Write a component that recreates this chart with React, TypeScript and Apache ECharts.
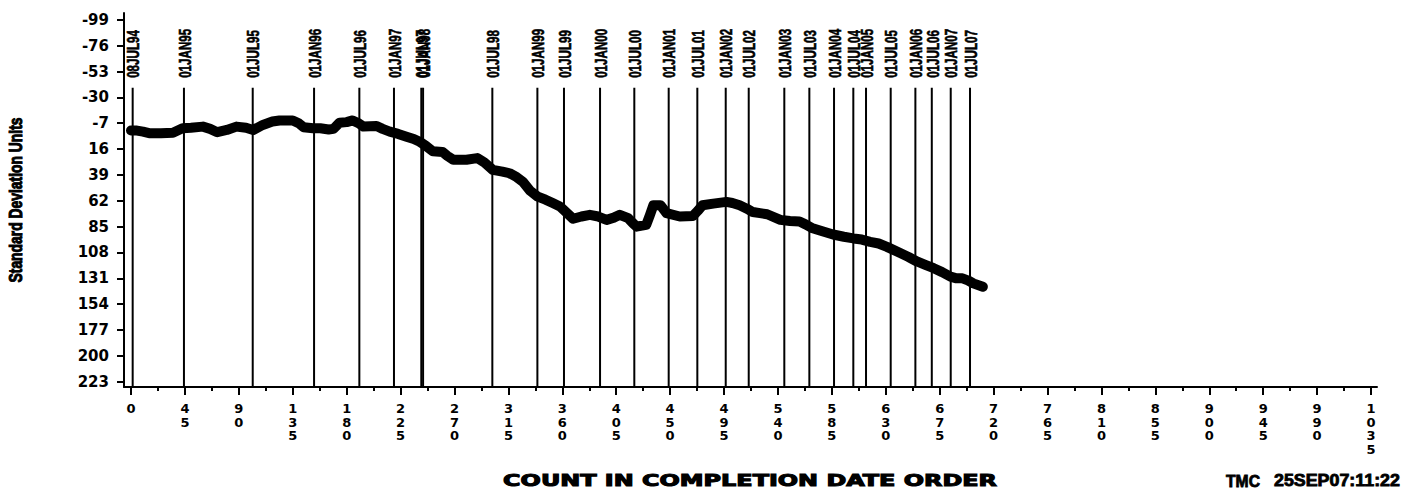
import React, { useEffect, useRef } from "react";
import * as echarts from "echarts";

// ---- data ----
const counts = [
  0, 5, 10, 16, 25, 35, 43, 50, 60, 66, 72, 80, 88, 96, 102, 110, 118, 124, 135, 140,
  144, 152, 158, 165, 169, 174, 180, 185, 190, 194, 205, 210, 216, 223, 230, 236, 241, 246, 252, 260,
  264, 269, 280, 289, 295, 302, 310, 316, 322, 327, 333, 339, 346, 352, 358, 364, 369, 376, 383, 390,
  397, 403, 408, 415, 419, 422, 430, 433, 436, 442, 447, 458, 469, 473, 477, 486, 497, 502, 508, 514,
  519, 525, 531, 542, 550, 558, 563, 569, 575, 586, 595, 603, 610, 617, 624, 631, 642, 649, 656, 663,
  670, 677, 684, 689, 694, 699, 703, 711,
];
const values = [
  -0.5, -0.5, 0.5, 2, 2, 1.5, -2.5, -3, -4, -2, 1, -1, -4, -3, -1, -5.5, -8.5, -9.5, -9.5, -7,
  -3.5, -2.5, -2.5, -1.5, -2, -7.5, -8, -9.5, -7, -4, -4.5, -2, 0.5, 2.5, 5, 7, 9.5, 13, 18, 18.5,
  22, 25.5, 25.5, 24, 28, 34.5, 36, 37.5, 41, 45, 53, 58, 61, 64, 67, 73, 78, 76, 74.5, 76,
  79, 77, 74.5, 77.5, 82, 85, 83.5, 75, 66, 66, 73, 76, 75.5, 71, 66, 64.5, 63, 64, 66, 69,
  72, 73, 74, 79, 80, 80.5, 83, 86.5, 88.5, 92, 94, 95.5, 96.5, 98.5, 100, 103, 108.5, 112, 116, 119,
  122, 125.5, 129.5, 131, 131, 133, 135.5, 138.5,
];

const refDates = [
  "08JUL94", "01JAN95", "01JUL95", "01JAN96", "01JUL96", "01JAN97", "01JUL97", "01JAN98",
  "01JUL98", "01JAN99", "01JUL99", "01JAN00", "01JUL00", "01JAN01", "01JUL01", "01JAN02",
  "01JUL02", "01JAN03", "01JUL03", "01JAN04", "01JUL04", "01JAN05", "01JUL05", "01JAN06",
  "01JUL06", "01JAN07", "01JUL07",
];
const refCounts = [
  1.4, 44.2, 101.6, 152.8, 190.6, 219.5, 242.3, 243.8,
  301.6, 339.2, 361.4, 391.5, 420.1, 448.8, 472.7, 496.4,
  515.6, 545.3, 566.2, 586.8, 602.9, 613.5, 634.1, 654.7,
  668.4, 684.2, 700.3,
];

const xTicks = [
  0, 45, 90, 135, 180, 225, 270, 315, 360, 405, 450, 495, 540, 585, 630, 675, 720, 765, 810, 855,
  900, 945, 990, 1035,
];
const xMinorTicks = [
  22.5, 67.5, 112.5, 157.5, 202.5, 247.5, 292.5, 337.5, 382.5, 427.5, 472.5, 517.5, 562.5, 607.5,
  652.5, 697.5, 742.5, 787.5, 832.5, 877.5, 922.5, 967.5, 1012.5,
];
const yTicks = [-99, -76, -53, -30, -7, 16, 39, 62, 85, 108, 131, 154, 177, 200, 223];

const X_MIN = -5.84;
const X_MAX = 1040;
const Y_MIN = -105.1;
const Y_MAX = 227.7;
const REF_TOP = -38.5;

function fitScale(text: string, font: string, target: number): number {
  try {
    const ctx = document.createElement("canvas").getContext("2d");
    if (!ctx) return 1;
    ctx.font = font;
    const w = ctx.measureText(text).width;
    return w > 0 ? target / w : 1;
  } catch (e) {
    return 1;
  }
}

export default function App() {
  const ref = useRef<HTMLDivElement>(null);

  useEffect(() => {
    if (!ref.current) return;
    const chart = echarts.init(ref.current, undefined, { renderer: "svg" });

    const refFont = 'bold 16px "Liberation Sans"';
    const refScale = fitScale("01JAN95", refFont, 49);
    const yTitleFont = 'bold 18px "Liberation Sans"';
    const yTitleScale = fitScale("Standard Deviation Units", yTitleFont, 165);
    const xTitleFont = 'bold 15px "DejaVu Sans"';
    const xTitleScale = fitScale("COUNT IN COMPLETION DATE ORDER", xTitleFont, 494);
    const stampFont = 'bold 16px "Liberation Sans"';
    const tmcScale = fitScale("TMC", stampFont, 34);
    const dateScale = fitScale("25SEP07:11:22", stampFont, 126);

    const black = "#000";

    const option: any = {
      animation: false,
      backgroundColor: "#fff",
      grid: { left: 124, right: 32, top: 13, bottom: 106, containLabel: false },
      xAxis: [
        {
          type: "value",
          min: X_MIN,
          max: X_MAX,
          position: "bottom",
          axisLine: { show: true, onZero: false, lineStyle: { color: black, width: 2 } },
          axisTick: { show: true, customValues: xTicks, length: 8, lineStyle: { color: black, width: 2 } },
          axisLabel: {
            show: true,
            customValues: xTicks,
            formatter: (v: number) => String(v).split("").join("\n"),
            fontFamily: "DejaVu Sans",
            fontWeight: "bold",
            fontSize: 13,
            lineHeight: 13.5,
            color: black,
            margin: 15,
            verticalAlign: "top",
          },
          splitLine: { show: false },
        },
        {
          type: "value",
          min: X_MIN,
          max: X_MAX,
          position: "bottom",
          offset: 0,
          axisLine: { show: false, onZero: false },
          axisTick: { show: true, customValues: xMinorTicks, length: 4, lineStyle: { color: black, width: 2 } },
          axisLabel: { show: false },
          splitLine: { show: false },
        },
      ],
      yAxis: {
        type: "value",
        inverse: true,
        min: Y_MIN,
        max: Y_MAX,
        axisLine: { show: true, onZero: false, lineStyle: { color: black, width: 2 } },
        axisTick: { show: true, customValues: yTicks, length: 7, lineStyle: { color: black, width: 2 } },
        axisLabel: {
          show: true,
          customValues: yTicks,
          fontFamily: "DejaVu Sans",
          fontWeight: "bold",
          fontSize: 15,
          color: black,
          margin: 15,
        },
        splitLine: { show: false },
      },
      series: [
        {
          type: "custom",
          xAxisIndex: 0,
          yAxisIndex: 0,
          z: 1,
          clip: false,
          data: refCounts.map((c) => [c, REF_TOP]),
          encode: { x: 0, y: 1 },
          renderItem: (params: any, api: any) => {
            const x = api.value(0);
            const top = api.coord([x, REF_TOP]);
            const bottom = api.coord([x, Y_MAX]);
            return {
              type: "group",
              children: [
                {
                  type: "line",
                  shape: { x1: top[0], y1: top[1], x2: bottom[0], y2: bottom[1] },
                  style: { stroke: black, lineWidth: 2 },
                },
                {
                  type: "text",
                  x: top[0] + 1,
                  y: top[1] - 10,
                  rotation: Math.PI / 2,
                  scaleX: refScale,
                  style: {
                    text: refDates[params.dataIndex],
                    font: refFont,
                    fill: black,
                    stroke: black,
                    lineWidth: 0.6,
                    align: "left",
                    verticalAlign: "middle",
                  },
                },
              ],
            };
          },
        },
        {
          type: "line",
          xAxisIndex: 0,
          yAxisIndex: 0,
          z: 3,
          data: counts.map((c, i) => [c, values[i]]),
          showSymbol: false,
          symbol: "none",
          lineStyle: { color: black, width: 10, cap: "round", join: "round" },
        },
      ],
      graphic: [
        {
          type: "text",
          x: 15,
          y: 200,
          rotation: Math.PI / 2,
          scaleX: yTitleScale,
          style: {
            text: "Standard Deviation Units",
            font: yTitleFont,
            fill: black,
            stroke: black,
            lineWidth: 1,
            align: "center",
            verticalAlign: "middle",
          },
        },
        {
          type: "text",
          x: 750,
          y: 481,
          scaleX: xTitleScale,
          style: {
            text: "COUNT IN COMPLETION DATE ORDER",
            font: xTitleFont,
            fill: black,
            stroke: black,
            lineWidth: 1,
            align: "center",
            verticalAlign: "middle",
          },
        },
        {
          type: "text",
          x: 1226,
          y: 481,
          scaleX: tmcScale,
          style: { text: "TMC", font: stampFont, fill: black, stroke: black, lineWidth: 0.8, align: "left", verticalAlign: "middle" },
        },
        {
          type: "text",
          x: 1274,
          y: 481,
          scaleX: dateScale,
          style: { text: "25SEP07:11:22", font: stampFont, fill: black, stroke: black, lineWidth: 0.8, align: "left", verticalAlign: "middle" },
        },
      ],
    };

    chart.setOption(option);
    return () => chart.dispose();
  }, []);

  return (
    <div
      ref={ref}
      style={{ position: "absolute", left: 0, top: 0, width: 1409, height: 493, background: "#fff" }}
    />
  );
}
